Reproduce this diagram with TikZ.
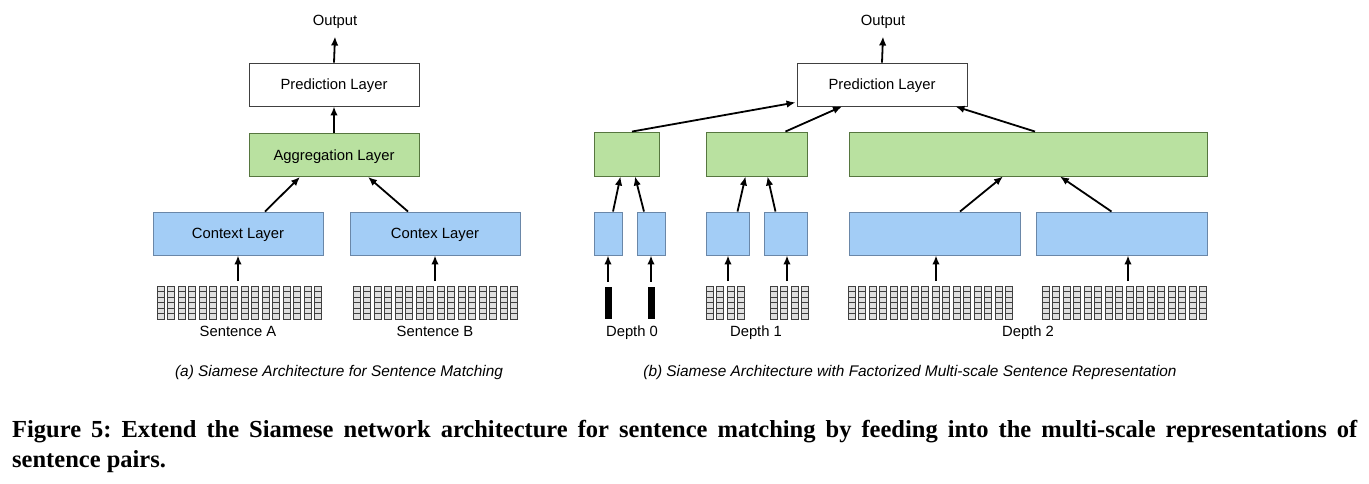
\documentclass[tikz,border=0pt]{standalone}
\usepackage{fontspec}
\setmainfont{Liberation Sans}
\newfontfamily\capserif{Liberation Serif}
\usetikzlibrary{calc}
\usetikzlibrary{arrows.meta}

\definecolor{ctxblue}{HTML}{A3CDF6}
\definecolor{ctxedge}{HTML}{6A87A8}
\definecolor{agggreen}{HTML}{B9E1A0}
\definecolor{aggedge}{HTML}{56763F}

\tikzset{
  layerbox/.style={draw=black!75, fill=white, line width=0.9pt, minimum width=170pt,
    minimum height=43pt, inner sep=0pt, text height=10.6pt, text depth=0pt,
    font=\fontsize{14.8}{17}\selectfont},
  ctxbox/.style={layerbox, draw=ctxedge, fill=ctxblue},
  aggbox/.style={layerbox, draw=aggedge, fill=agggreen},
  flow/.style={-{Latex[length=9pt,width=7.5pt]}, line width=1.8pt},
  lbl/.style={font=\fontsize{14.8}{17}\selectfont, inner sep=0pt, text height=10.6pt, text depth=0pt},
  subcap/.style={font=\fontsize{15.4}{18}\selectfont\itshape, inner sep=0pt, text height=11pt, text depth=0pt},
  wcell/.style={draw=black!75, fill=black!12, line width=0.6pt},
}

% word vectors: left x, top y, number of columns
\newcommand{\wordcols}[3]{%
  \foreach \c in {1,...,#3}
    \foreach \r in {0,...,5}
      \draw[wcell] ({#1+10.5*(\c-1)},{#2+5.5*\r}) rectangle ++(7,5.5);
}

\begin{document}
\begin{tikzpicture}[x=1pt, y=-1pt]
\useasboundingbox (0,0) rectangle (1369,484);

% (a) siamese architecture
\node[lbl] (outA) at (335,20) {Output};
\node[layerbox] (predA) at (334,84.5) {Prediction Layer};
\node[aggbox] (aggA) at (334,155) {Aggregation Layer};
\node[ctxbox] (ctxA) at (238,233.5) {Context Layer};
\node[ctxbox] (ctxB) at (435,233.5) {Contex Layer};

\wordcols{157}{286}{16}
\wordcols{353}{286}{16}
\coordinate (wA) at (238,281);
\coordinate (wB) at (435,281);
\node[lbl] (sentA) at (238,331) {Sentence A};
\node[lbl] (sentB) at (435,331) {Sentence B};

\draw[flow] (predA.north) -- ($(outA.south)+(0,11)$);
\draw[flow] (aggA.north) -- (predA.south);
\draw[flow] ($(ctxA.north)+(27,0)$) -- ($(aggA.south)+(-34,0)$);
\draw[flow] ($(ctxB.north)+(-27,0)$) -- ($(aggA.south)+(34,0)$);
\draw[flow] (wA) -- (ctxA.south);
\draw[flow] (wB) -- (ctxB.south);

% (b) multi-scale
\node[lbl] (outB) at (883,20) {Output};
\node[layerbox] (predB) at (882,84.5) {Prediction Layer};

\node[aggbox, minimum width=65pt, minimum height=44pt] (g0) at (626.5,154) {};
\node[aggbox, minimum width=101pt, minimum height=44pt] (g1) at (756.5,154) {};
\node[aggbox, minimum width=358pt, minimum height=44pt] (g2) at (1028,154) {};

\node[ctxbox, minimum width=28pt] (b0a) at (608,233.5) {};
\node[ctxbox, minimum width=28pt] (b0b) at (651,233.5) {};
\node[ctxbox, minimum width=43pt] (b1a) at (727.5,233.5) {};
\node[ctxbox, minimum width=43pt] (b1b) at (785.5,233.5) {};
\node[ctxbox, minimum width=171pt] (b2a) at (934.5,233.5) {};
\node[ctxbox, minimum width=171pt] (b2b) at (1121.5,233.5) {};

% depth 0: single words
\node[fill=black, inner sep=0pt, minimum width=7pt, minimum height=32pt] (bar0a) at (608,303) {};
\node[fill=black, inner sep=0pt, minimum width=7pt, minimum height=32pt] (bar0b) at (651,303) {};
% depth 1 and 2: word groups
\wordcols{706}{286}{4}
\wordcols{770}{286}{4}
\wordcols{848}{286}{16}
\wordcols{1042}{286}{16}
\coordinate (w1a) at (728,281);
\coordinate (w1b) at (787,281);
\coordinate (w2a) at (936,281);
\coordinate (w2b) at (1128,281);

\node[lbl] (dep0) at (632,331) {Depth 0};
\node[lbl] (dep1) at (756,331) {Depth 1};
\node[lbl] (dep2) at (1028,331) {Depth 2};

\draw[flow] (predB.north) -- ($(outB.south)+(0,11)$);
\draw[flow] ($(g0.north)+(5.5,0)$) -- ($(predB.south west)+(-1,-4)$);
\draw[flow] ($(g1.north east)+(-22,0)$) -- ($(predB.south)+(-40,0)$);
\draw[flow] ($(g2.north)+(7,0)$) -- ($(predB.south east)+(-12,0)$);

\draw[flow] ($(b0a.north)+(5,0)$) -- ($(g0.south)+(-6,0)$);
\draw[flow] ($(b0b.north)+(-7,0)$) -- ($(g0.south)+(8.5,0)$);
\draw[flow] ($(b1a.north)+(10,0)$) -- ($(g1.south)+(-11,0)$);
\draw[flow] ($(b1b.north)+(-10,0)$) -- ($(g1.south)+(11,0)$);
\draw[flow] ($(b2a.north)+(25.5,0)$) -- ($(g2.south)+(-25,0)$);
\draw[flow] ($(b2b.north)+(-10,0)$) -- ($(g2.south)+(32,0)$);

\draw[flow] ($(bar0a.north)+(0,-5)$) -- (b0a.south);
\draw[flow] ($(bar0b.north)+(0,-5)$) -- (b0b.south);
\draw[flow] (w1a) -- (w1a |- b1a.south);
\draw[flow] (w1b) -- (w1b |- b1b.south);
\draw[flow] (w2a) -- (w2a |- b2a.south);
\draw[flow] (w2b) -- (w2b |- b2b.south);

% captions
\node[subcap] (capA) at (339,371) {(a) Siamese Architecture for Sentence Matching};
\node[subcap] (capB) at (910,371) {(b) Siamese Architecture with Factorized Multi-scale Sentence Representation};

\node[anchor=base west, inner sep=0pt, font=\capserif\bfseries\fontsize{24.5}{30}\selectfont] (fig1) at (12,437)
  {\frenchspacing\makebox[1345pt][s]{Figure 5: Extend the Siamese network architecture for sentence matching by feeding into the multi-scale representations of}};
\node[anchor=base west, inner sep=0pt, font=\capserif\bfseries\fontsize{24.5}{30}\selectfont] (fig2) at (12,467)
  {sentence pairs.};
\end{tikzpicture}
\end{document}
